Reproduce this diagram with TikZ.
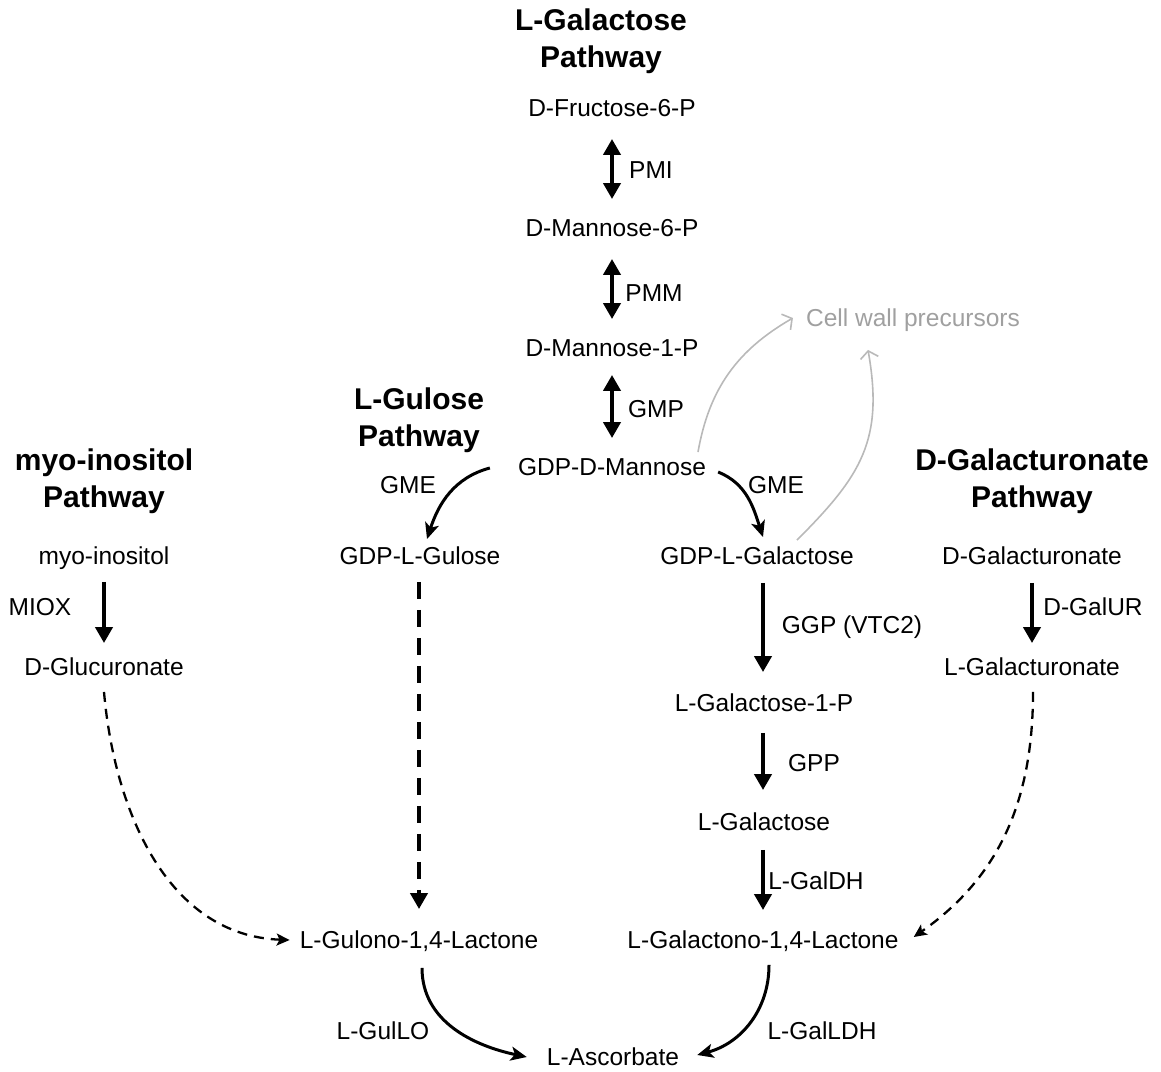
\documentclass[tikz,border=0pt]{standalone}
\usepackage{fontspec}
\setmainfont{Liberation Sans}
\usetikzlibrary{arrows.meta,calc}
\definecolor{cwtext}{RGB}{160,160,160}
\definecolor{cwline}{RGB}{185,185,185}
\begin{document}
\begin{tikzpicture}[x=1pt,y=-1pt,
  txt/.style={inner sep=0pt, text height=17.5pt, text depth=0pt, font=\fontsize{24.5}{29}\selectfont},
  head/.style={inner sep=0pt, align=center, font=\fontsize{30}{37}\selectfont\bfseries},
  thickarr/.style={line width=4.6pt, -{Triangle[length=16pt,width=17pt]}},
  dblarr/.style={line width=4.4pt, {Triangle[length=16pt,width=17pt]}-{Triangle[length=16pt,width=17pt]}},
  curvarr/.style={line width=3pt, -{Stealth[length=16pt,width=14pt,inset=4pt]}},
  dasharr/.style={line width=2.3pt, dash pattern=on 10pt off 7pt, -{Stealth[length=13pt,width=12pt,inset=3pt]}},
  thickdash/.style={line width=4.6pt, dash pattern=on 17pt off 11pt, -{Triangle[length=16pt,width=17pt]}},
  grayarr/.style={line width=1.6pt, draw=cwline, -{Straight Barb[length=7pt,width=18pt]}},
]
\useasboundingbox (0,0) rectangle (1161,1071);

% headings
\node[head] (hgal) at (601,41) {L-Galactose\\Pathway};
\node[head] (hgul) at (419,420) {L-Gulose\\Pathway};
\node[head] (hmyo) at (104,481) {myo-inositol\\Pathway};
\node[head] (hdgal) at (1032,481) {D-Galacturonate\\Pathway};

% metabolites
\node[txt] (fru) at (612,108) {D-Fructose-6-P};
\node[txt] (m6) at (612,228) {D-Mannose-6-P};
\node[txt] (m1) at (612,348) {D-Mannose-1-P};
\node[txt] (gdpm) at (612,467) {GDP-D-Mannose};
\node[txt] (gul) at (420,556) {GDP-L-Gulose};
\node[txt] (gal) at (757,556) {GDP-L-Galactose};
\node[txt] (dgala) at (1032,556) {D-Galacturonate};
\node[txt] (myo) at (104,556) {myo-inositol};
\node[txt] (glc) at (104,667) {D-Glucuronate};
\node[txt] (lgala) at (1032,667) {L-Galacturonate};
\node[txt] (gal1p) at (764,703) {L-Galactose-1-P};
\node[txt] (lgal) at (764,822) {L-Galactose};
\node[txt] (galac) at (763,940) {L-Galactono-1,4-Lactone};
\node[txt] (gulac) at (419,940) {L-Gulono-1,4-Lactone};
\node[txt] (asc) at (613,1057) {L-Ascorbate};
\node[txt, text=cwtext] (cwp) at (913,318) {Cell wall precursors};

% enzyme labels
\node[txt] (pmi) at (651,170) {PMI};
\node[txt] (pmm) at (654,293) {PMM};
\node[txt] (gmp) at (656,409) {GMP};
\node[txt] (gmel) at (408,485) {GME};
\node[txt] (gmer) at (776,485) {GME};
\node[txt] (miox) at (40,607) {MIOX};
\node[txt] (galur) at (1093,607) {D-GalUR};
\node[txt] (ggp) at (852,625) {GGP (VTC2)};
\node[txt] (gpp) at (814,763) {GPP};
\node[txt] (galdh) at (816,881) {L-GalDH};
\node[txt] (gullo) at (383,1031) {L-GulLO};
\node[txt] (galldh) at (822,1031) {L-GalLDH};

% L-galactose pathway top
\draw[dblarr] ($(fru.south)+(0,22)$) -- ($(m6.north)+(0,-20)$);
\draw[dblarr] ($(m6.south)+(0,22)$) -- ($(m1.north)+(0,-20)$);
\draw[dblarr] ($(m1.south)+(0,18)$) -- ($(gdpm.north)+(0,-20)$);

% GME branches
\draw[curvarr] ($(gdpm.west)+(-28,1)$) to[out=195,in=72] ($(gul.north)+(7,-8)$);
\draw[curvarr] ($(gdpm.east)+(12,5)$) to[out=-22,in=108] ($(gal.north)+(6,-10)$);

% cell wall
\draw[grayarr] ($(gdpm.north)+(86,-6)$) to[out=80,in=210] ($(cwp.west)+(-13,0)$);
\draw[grayarr] ($(gal.north)+(40,-7)$) to[out=45,in=-80,looseness=1.15] ($(cwp.south)+(-45,23)$);

% galactose pathway
\draw[thickarr] ($(gal.south)+(6,18)$) -- ($(gal1p.north)+(-1,-22)$);
\draw[thickarr] ($(gal1p.south)+(-1,21)$) -- ($(lgal.north)+(-1,-23)$);
\draw[thickarr] ($(lgal.south)+(-1,19)$) -- ($(galac.north)+(0,-21)$);

% gulose
\draw[thickdash] ($(gul.south)+(-1,17)$) -- ($(gulac.north)+(0,-22)$);

% myo-inositol
\draw[thickarr] ($(myo.south)+(0,17)$) -- ($(glc.north)+(0,-15)$);
\draw[dasharr] ($(glc.south)+(0,16)$) to[out=-85,in=178] ($(gulac.west)+(-10,0)$);

% D-galacturonate
\draw[thickarr] ($(dgala.south)+(0,18)$) -- ($(lgala.north)+(0,-15)$);
\draw[dasharr] ($(lgala.south)+(1,16)$) to[out=-90,in=35] ($(galac.east)+(15,-3)$);

% ascorbate
\draw[curvarr] ($(gulac.south)+(3,19)$) to[out=-90,in=168] ($(asc.west)+(-20,0)$);
\draw[curvarr] ($(galac.south)+(6,16)$) to[out=-90,in=15] ($(asc.east)+(18,-2)$);
\end{tikzpicture}
\end{document}
